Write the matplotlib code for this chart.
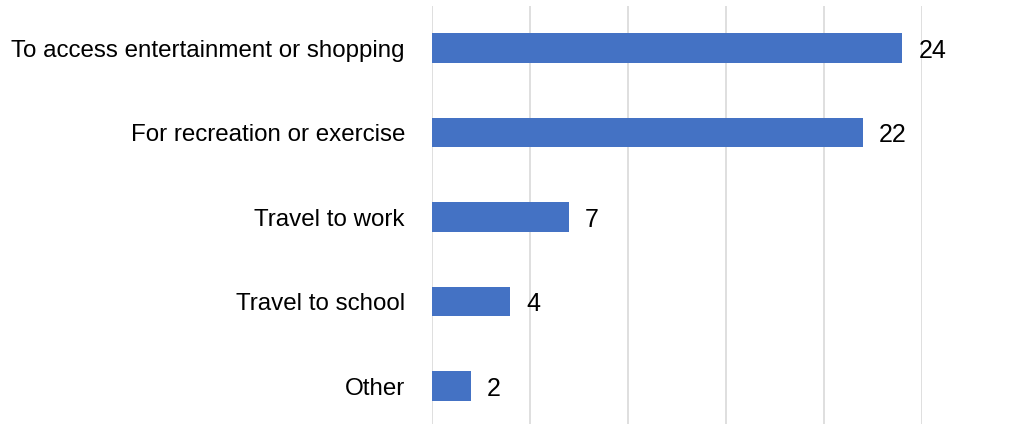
import matplotlib
matplotlib.use("Agg")
import matplotlib.pyplot as plt
from matplotlib import font_manager

categories = ["To access entertainment or shopping", "For recreation or exercise",
              "Travel to work", "Travel to school", "Other"]
values = [24, 22, 7, 4, 2]
xticks = [0, 5, 10, 15, 20, 25]

names = {f.name for f in font_manager.fontManager.ttflist}
narrow = "Liberation Sans Narrow" in names
fam = "Liberation Sans Narrow" if narrow else "Liberation Sans"
plt.rcParams['font.family'] = [fam, 'DejaVu Sans']
label_fs = 21 if narrow else 17.4
num_fs = 21 if narrow else 18

W, H = 1009, 424
fig = plt.figure(figsize=(W / 100, H / 100), dpi=100)
left, right, top, bottom = 432, 922, 5.75, 428.25
ax = fig.add_axes([left / W, 1 - bottom / H, (right - left) / W, (bottom - top) / H])

y = list(range(len(categories)))
ax.barh(y, values, height=0.35, color="#4472C4", zorder=3)
ax.set_ylim(len(categories) - 0.5, -0.5)
ax.set_xlim(0, 25)
ax.set_xticks(xticks)
ax.set_yticks(y)
ax.set_yticklabels(categories, fontsize=label_fs, color="#000000")
ax.tick_params(axis='y', length=0, pad=19.5)
ax.tick_params(axis='x', length=0, labelbottom=False)
ax.grid(axis='x', color="#D9D9D9", linewidth=1.2, zorder=0)
ax.set_clip_on(False)
for s in ax.spines.values():
    s.set_visible(False)

for yi, v in zip(y, values):
    ax.annotate(str(v), xy=(v, yi), xytext=(11.5, -0.716 * num_fs / 2 - 0.7),
                textcoords='offset points', ha='left', va='baseline',
                fontsize=num_fs, color="#000000", zorder=4)

fig.savefig("out.png", dpi=100)
